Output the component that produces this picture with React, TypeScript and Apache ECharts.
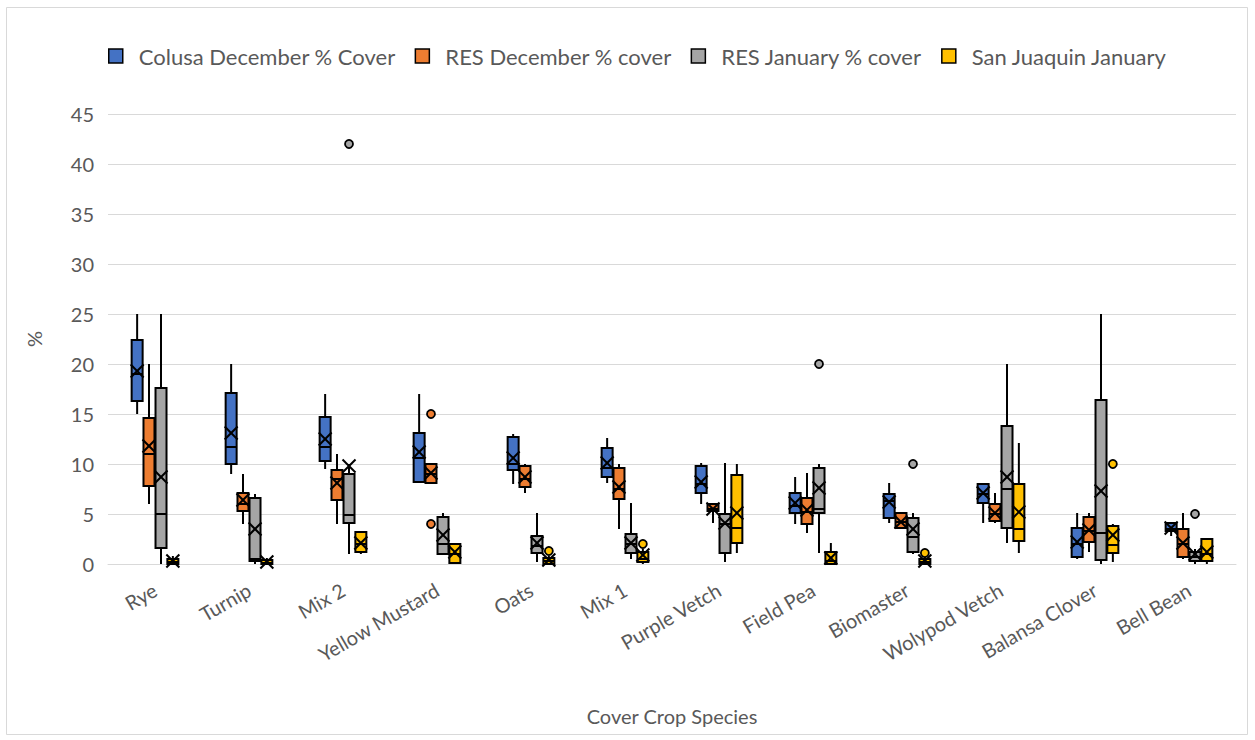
import React, { useEffect, useRef } from 'react';
import * as echarts from 'echarts';

const categories = ['Rye', 'Turnip', 'Mix 2', 'Yellow Mustard', 'Oats', 'Mix 1', 'Purple Vetch', 'Field Pea', 'Biomaster', 'Wolypod Vetch', 'Balansa Clover', 'Bell Bean'];
const seriesNames = ['Colusa December % Cover', 'RES December % cover', 'RES January % cover', 'San Juaquin January'];
const colors = ['#4472C4', '#ED7D31', '#A5A5A5', '#FFC000'];
const yTicks = { min: 0, max: 45, interval: 5 };

// [min, q1, median, q3, max]
const colusaBox = [
  [15, 16.3, 19, 22.4, 25], [9, 10, 11.7, 17.1, 20], [9.5, 10.3, 11.7, 14.7, 17], [8.1, 8.2, 10.6, 13.1, 17],
  [8, 9.4, 10, 12.7, 13], [8.1, 8.7, 9.6, 11.6, 12.6], [6, 7.1, 8, 9.8, 10.1], [4, 5.1, 5.8, 7.1, 8.7],
  [4.1, 4.6, 6.3, 7, 8.1], [4.1, 6.1, 7, 8, 8.1], [0.5, 0.7, 2, 3.6, 5.1], [2.8, 3.3, 3.5, 4.1, 4.1],
];
const colusaMean = [19.3, 13.1, 12.5, 11.2, 10.6, 10.1, 8.2, 6.1, 6.2, 7.1, 2.2, 3.6];
const colusaOutliers: number[][] = [];

const resDecBox = [
  [6, 7.8, 11, 14.6, 20], [4, 5.3, 6, 7.1, 9], [4, 6.4, 8.5, 9.4, 11], [8, 8.1, 9, 10, 10],
  [7.1, 7.7, 8.5, 9.8, 10], [3.5, 6.5, 7.5, 9.6, 10], [4.1, 5.3, 5.5, 6, 6], [3.1, 4, 5.2, 6.6, 9.1],
  [3.5, 3.6, 4.2, 5.1, 5.1], [4.1, 4.3, 5, 6, 7.1], [1.2, 2.2, 3.3, 4.7, 5.1], [0.5, 0.7, 2, 3.5, 5.1],
];
const resDecMean = [11.8, 6.4, 8.1, 9.1, 8.7, 7.7, 5.5, 5.4, 4.2, 5.1, 3.4, 2.1];
const resDecOutliers = [[3, 15], [3, 4]];

const resJanBox = [
  [0, 1.6, 5, 17.6, 25], [0, 0.3, 0.5, 6.6, 7], [1, 4.1, 4.9, 9, 10], [1, 1, 2, 4.7, 5.1],
  [0.2, 1.1, 1.8, 2.8, 5.1], [0.5, 1.1, 2, 3, 6.1], [0.2, 1.1, 4, 5, 10.1], [1.1, 5.1, 5.5, 9.6, 10],
  [1, 1.2, 2.7, 4.6, 5.1], [2.1, 3.6, 7.5, 13.8, 20], [0, 0.4, 3.1, 16.4, 25], [0, 0.3, 0.7, 1.2, 1.5],
];
const resJanMean = [8.7, 3.5, 9.8, 2.9, 2.1, 2.1, 4.1, 7.6, 3.5, 8.7, 7.3, 1];
const resJanOutliers = [[2, 42], [7, 20], [8, 10], [11, 5]];

const sjBox = [
  [0, 0, 0.2, 0.5, 0.8], [0, 0, 0.1, 0.4, 0.6], [1, 1.2, 2, 3.2, 3.2], [0, 0.1, 1, 2, 2],
  [0, 0, 0.3, 0.6, 0.8], [0, 0.2, 0.5, 1.2, 1.5], [1.1, 2.1, 3.6, 8.9, 10], [0, 0, 0.3, 1.2, 2.1],
  [0, 0, 0.2, 0.5, 0.8], [1.1, 2.3, 3.5, 8, 12.1], [0.2, 1.1, 1.9, 3.8, 4], [0, 0.3, 1, 2.5, 2.5],
];
const sjMean = [0.3, 0.2, 2.1, 1.2, 0.4, 0.9, 5.1, 0.6, 0.3, 5.2, 2.9, 1.2];
const sjOutliers = [[4, 1.3], [5, 2], [8, 1.1], [10, 10]];

const boxes = [colusaBox, resDecBox, resJanBox, sjBox];
const means = [colusaMean, resDecMean, resJanMean, sjMean];
const outliers = [colusaOutliers, resDecOutliers, resJanOutliers, sjOutliers];

// layout (fractions of the category band)
const offsets = [-0.19, -0.064, 0.064, 0.19];
const boxFrac = 0.117;
const FONT = 'Lato';
const TEXT = '#595959';

function boxRender(si: number) {
  return (params: any, api: any) => {
    const cat = api.value(0);
    const band = api.size([1, 0])[0];
    const cx = api.coord([cat, 0])[0] + offsets[si] * band;
    const bw = band * boxFrac;
    const py = (i: number) => api.coord([cat, api.value(i)])[1];
    const mn = py(1), q1 = py(2), md = py(3), q3 = py(4), mx = py(5), mean = py(6);
    const stroke = '#000';
    const lw = 2;
    const h = bw / 2 + 1;
    return {
      type: 'group',
      children: [
        { type: 'line', shape: { x1: cx, y1: mx, x2: cx, y2: q3 }, style: { stroke, lineWidth: lw } },
        { type: 'line', shape: { x1: cx, y1: q1, x2: cx, y2: mn }, style: { stroke, lineWidth: lw } },
        { type: 'rect', shape: { x: cx - bw / 2, y: q3, width: bw, height: Math.max(q1 - q3, 0.5) }, style: { fill: colors[si], stroke, lineWidth: lw } },
        { type: 'line', shape: { x1: cx - bw / 2, y1: md, x2: cx + bw / 2, y2: md }, style: { stroke, lineWidth: lw } },
        { type: 'line', shape: { x1: cx - h, y1: mean - h, x2: cx + h, y2: mean + h }, style: { stroke, lineWidth: lw } },
        { type: 'line', shape: { x1: cx - h, y1: mean + h, x2: cx + h, y2: mean - h }, style: { stroke, lineWidth: lw } },
      ],
    };
  };
}

function outlierRender(si: number) {
  return (params: any, api: any) => {
    const cat = api.value(0);
    const band = api.size([1, 0])[0];
    const p = api.coord([cat, api.value(1)]);
    return {
      type: 'circle',
      shape: { cx: p[0] + offsets[si] * band, cy: p[1], r: 4 },
      style: { fill: colors[si], stroke: '#000', lineWidth: 1.8 },
    };
  };
}

export default function App() {
  const ref = useRef<HTMLDivElement>(null);
  useEffect(() => {
    if (!ref.current) return;
    const chart = echarts.init(ref.current, undefined, { renderer: 'svg' });
    const series: any[] = [];
    seriesNames.forEach((name, si) => {
      series.push({
        type: 'custom',
        name,
        itemStyle: { color: colors[si] },
        renderItem: boxRender(si),
        clip: false,
        encode: { x: 0, y: [1, 2, 3, 4, 5, 6] },
        data: boxes[si].map((b, i) => [i, ...b, means[si][i]]),
        z: 3,
      });
      if (outliers[si].length) {
        series.push({
          type: 'custom',
          name,
          itemStyle: { color: colors[si] },
          renderItem: outlierRender(si),
          clip: false,
          encode: { x: 0, y: 1 },
          data: outliers[si],
          z: 4,
        });
      }
    });
    chart.setOption({
      animation: false,
      backgroundColor: '#fff',
      textStyle: { fontFamily: FONT },
      graphic: [
        { type: 'rect', shape: { x: 6.5, y: 7.5, width: 1241, height: 727 }, style: { fill: 'none', stroke: '#d9d9d9', lineWidth: 1 }, silent: true },
      ],
      legend: {
        left: 103,
        top: 40,
        itemWidth: 14,
        itemHeight: 14,
        itemGap: 19,
        icon: 'rect',
        itemStyle: { borderColor: '#000', borderWidth: 1.5 },
        textStyle: { fontFamily: FONT, fontSize: 22, color: TEXT, padding: [0, 0, 0, 11] },
        data: seriesNames,
      },
      grid: { left: 108, right: 19, top: 114, bottom: 176, containLabel: false },
      xAxis: {
        type: 'category',
        data: categories,
        name: 'Cover Crop Species',
        nameLocation: 'middle',
        nameGap: 142,
        nameTextStyle: { fontFamily: FONT, fontSize: 20, color: TEXT },
        axisLine: { lineStyle: { color: '#d9d9d9', width: 1 } },
        axisTick: { show: false },
        axisLabel: { interval: 0, rotate: 30, fontFamily: FONT, fontSize: 20, color: TEXT, margin: 24 },
        splitLine: { show: false },
      },
      yAxis: {
        type: 'value',
        min: yTicks.min,
        max: yTicks.max,
        interval: yTicks.interval,
        name: '%',
        nameLocation: 'middle',
        nameGap: 64,
        nameRotate: 90,
        nameTextStyle: { fontFamily: FONT, fontSize: 20, color: TEXT },
        axisLine: { show: false },
        axisTick: { show: false },
        axisLabel: { fontFamily: FONT, fontSize: 20, color: TEXT, margin: 14 },
        splitLine: { lineStyle: { color: '#d9d9d9', width: 1 } },
      },
      series,
    });
    return () => chart.dispose();
  }, []);
  return <div ref={ref} style={{ position: 'absolute', left: 0, top: 0, width: 1255, height: 740, background: '#fff' }} />;
}
